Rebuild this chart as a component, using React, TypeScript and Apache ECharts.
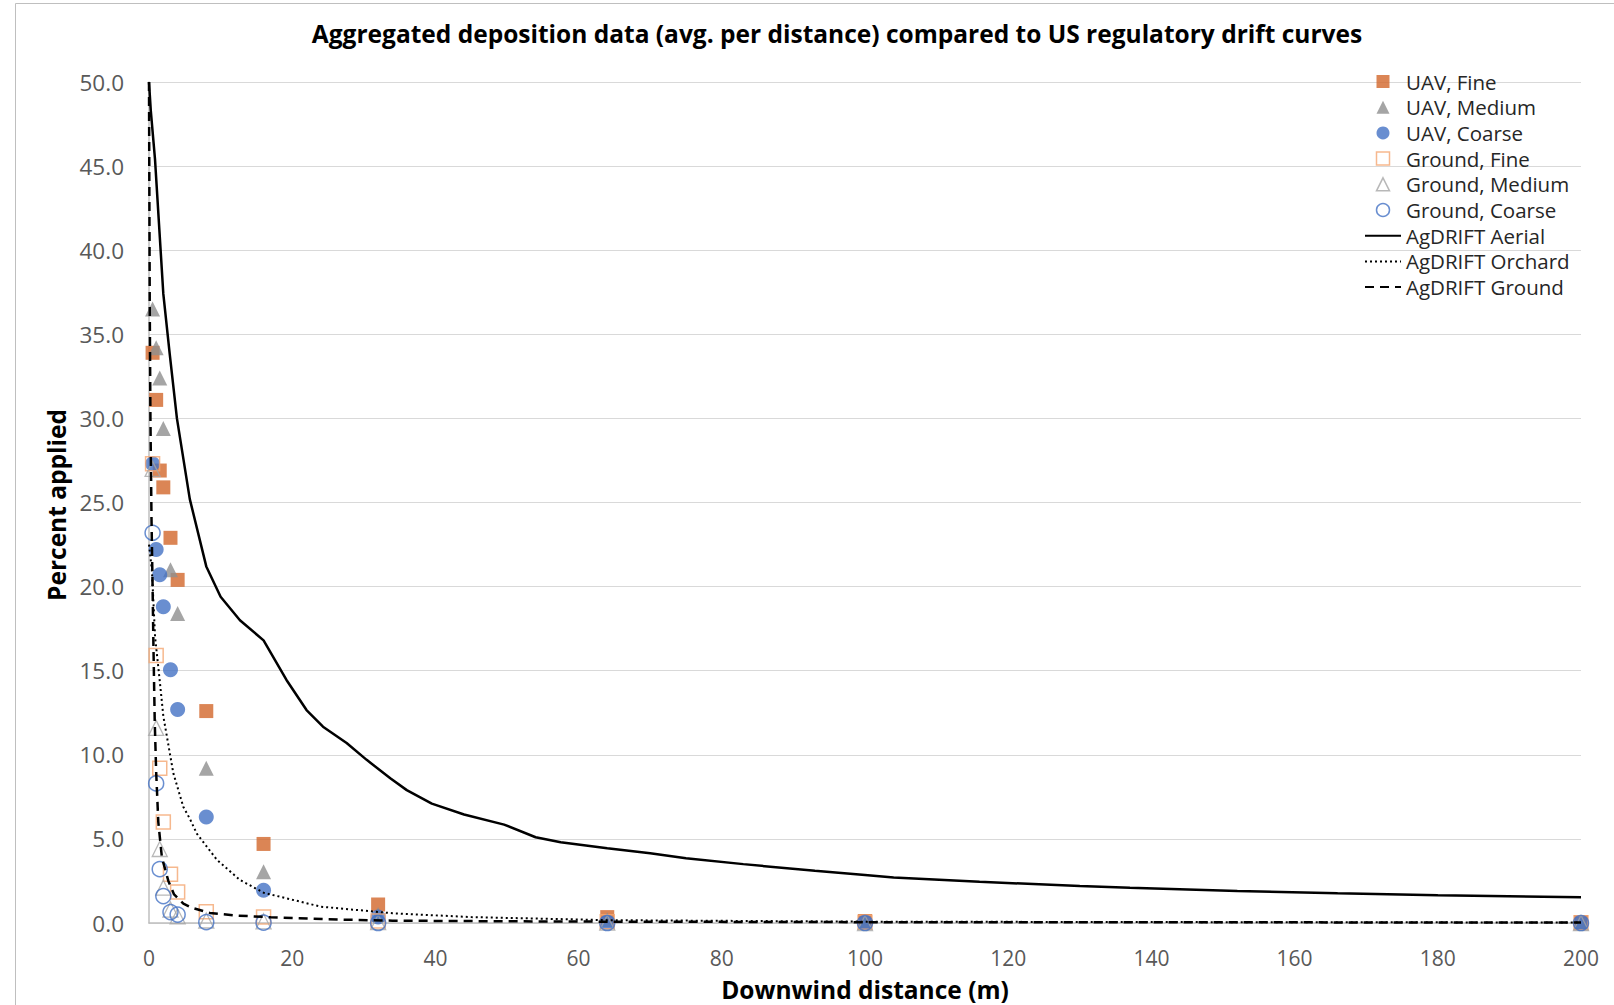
import React, { useEffect, useRef } from "react";
import * as echarts from "echarts";

const titleText = "Aggregated deposition data (avg. per distance) compared to US regulatory drift curves";
const xAxisTitle = "Downwind distance (m)";
const yAxisTitle = "Percent applied";

const seriesNames = [
  "UAV, Fine",
  "UAV, Medium",
  "UAV, Coarse",
  "Ground, Fine",
  "Ground, Medium",
  "Ground, Coarse",
  "AgDRIFT Aerial",
  "AgDRIFT Orchard",
  "AgDRIFT Ground",
];

const distances = [0.5, 1, 1.5, 2, 3, 4, 8, 16, 32, 64, 100, 200];
const uavFine = [33.9, 31.1, 26.9, 25.9, 22.9, 20.4, 12.6, 4.7, 1.1, 0.35, 0.12, 0.05];
const uavMedium = [36.5, 34.2, 32.4, 29.4, 21.0, 18.4, 9.2, 3.05, 0.5, 0.2, 0.05, 0.02];
const uavCoarse = [27.3, 22.2, 20.7, 18.8, 15.05, 12.7, 6.3, 1.95, 0.35, 0.05, 0.0, 0.0];
const groundFine = [27.3, 15.9, 9.2, 6.0, 2.9, 1.85, 0.67, 0.35, 0.12, 0.08, 0.05, 0.02];
const groundMedium = [27.0, 11.6, 4.4, 2.1, 0.8, 0.4, 0.15, 0.1, 0.05, 0.02, 0.0, 0.0];
const groundCoarse = [23.2, 8.3, 3.2, 1.6, 0.65, 0.5, 0.05, 0.02, 0.0, 0.0, 0.0, 0.0];

const aerialX = [0, 0.25, 0.84, 2, 2.9, 3.9, 5.7, 8, 10, 12.7, 16, 19.2, 22, 24.3, 27.6, 30.4, 33.7, 36, 39.5, 44, 49.6, 54, 57.5, 64, 70, 75, 83, 93, 100, 104, 116, 130, 137, 152, 166, 180, 200];
const aerialY = [50, 48.3, 45.4, 37.4, 33.8, 30.0, 25.2, 21.2, 19.4, 18.0, 16.8, 14.45, 12.66, 11.67, 10.7, 9.7, 8.6, 7.9, 7.1, 6.45, 5.85, 5.1, 4.8, 4.45, 4.15, 3.85, 3.5, 3.1, 2.85, 2.7, 2.45, 2.2, 2.1, 1.9, 1.77, 1.65, 1.53];

const orchardX = [0, 0.4, 0.85, 1.5, 2, 3.4, 4.8, 5.7, 6.7, 9.5, 12.7, 16, 24, 34, 45, 64, 100, 150, 200];
const orchardY = [22.5, 21.0, 17.0, 14.4, 12.3, 8.9, 6.9, 6.2, 5.3, 3.75, 2.56, 1.8, 0.97, 0.58, 0.35, 0.17, 0.08, 0.05, 0.03];

const groundX = [0, 0.1, 0.2, 0.35, 0.5, 0.6, 0.8, 1.0, 1.3, 1.8, 2.7, 3.5, 4.8, 6, 8.5, 12, 17, 25, 34, 50, 64, 100, 200];
const groundY = [50, 37, 30, 24, 20, 17, 12, 9, 6, 3.9, 2.5, 1.7, 1.15, 0.9, 0.6, 0.45, 0.34, 0.22, 0.14, 0.1, 0.08, 0.05, 0.03];

const yTicks = { min: 0, max: 50, interval: 5 };
const xTicks = { min: 0, max: 200, interval: 20 };

const zip = (xs: number[], ys: number[]) => xs.map((x, i) => [x, ys[i]]);

const SQUARE_ICON = "path://M0,0L10,0L10,10L0,10Z";
const TRIANGLE_ICON = "path://M5,0L10,10L0,10Z";
const CIRCLE_ICON = "circle";
const legendIcons = [SQUARE_ICON, TRIANGLE_ICON, CIRCLE_ICON, SQUARE_ICON, TRIANGLE_ICON, CIRCLE_ICON];

export default function App() {
  const ref = useRef<HTMLDivElement>(null);
  useEffect(() => {
    if (!ref.current) return;
    const chart = echarts.init(ref.current, undefined, { renderer: "svg" });
    const font = "'Open Sans', 'Liberation Sans', sans-serif";
    const orange = "#D2672A";
    const gray = "#8E8E8E";
    const blue = "#4472C4";
    const lightOrange = "#F4A672";
    const lightGray = "#A6A6A6";

    const scatter = (name: string, ys: number[], symbol: string, size: number, itemStyle: any) => ({
      name,
      type: "scatter",
      data: zip(distances, ys),
      symbol,
      symbolSize: size,
      itemStyle,
      emphasis: { disabled: true },
    });

    const line = (name: string, xs: number[], ys: number[], lineStyle: any) => ({
      name,
      type: "line",
      data: zip(xs, ys),
      symbol: "none",
      itemStyle: { color: "#000" },
      lineStyle,
      emphasis: { disabled: true },
    });

    chart.setOption({
      animation: false,
      backgroundColor: "#ffffff",
      title: {
        text: titleText,
        left: 837,
        top: 33,
        textAlign: "center",
        textVerticalAlign: "middle",
        padding: 0,
        textStyle: { fontFamily: font, fontWeight: "bold", fontSize: 24.5, color: "#000" },
      },
      graphic: [
        {
          type: "rect",
          shape: { x: 15.5, y: 3.5, width: 2000, height: 2000 },
          style: { fill: "none", stroke: "#BFBFBF", lineWidth: 1 },
          silent: true,
        },
      ],
      legend: {
        orient: "vertical",
        left: 1364,
        top: 71,
        itemWidth: 36,
        itemHeight: 13,
        itemGap: 4.7,
        padding: 0,
        symbolKeepAspect: true,
        selectedMode: false,
        textStyle: { fontFamily: font, fontSize: 20.5, color: "#262626", lineHeight: 20 },
        data: seriesNames.map((n, i) => {
          if (i >= 3 && i <= 5) return { name: n, icon: legendIcons[i], itemStyle: { borderWidth: 1.5 } };
          if (i >= 6) return { name: n, itemStyle: { opacity: 0 } };
          return { name: n, icon: legendIcons[i] };
        }),
      },
      grid: { left: 149, right: 33, top: 82, bottom: 82, containLabel: false, outerBoundsMode: "none" },
      xAxis: {
        type: "value",
        min: xTicks.min,
        max: xTicks.max,
        interval: xTicks.interval,
        name: xAxisTitle,
        nameLocation: "middle",
        nameGap: 54,
        nameTextStyle: { fontFamily: font, fontWeight: "bold", fontSize: 24.5, color: "#000" },
        axisLine: { show: true, lineStyle: { color: "#BFBFBF", width: 1.5 } },
        axisTick: { show: false },
        splitLine: { show: false },
        axisLabel: { fontFamily: font, fontSize: 21, color: "#595959", margin: 24 },
      },
      yAxis: {
        type: "value",
        min: yTicks.min,
        max: yTicks.max,
        interval: yTicks.interval,
        name: yAxisTitle,
        nameLocation: "middle",
        nameGap: 80,
        nameTextStyle: { fontFamily: font, fontWeight: "bold", fontSize: 24.5, color: "#000", padding: [0, 5, 0, 0] },
        axisLine: { show: true, lineStyle: { color: "#BFBFBF", width: 1.5 } },
        axisTick: { show: false },
        splitLine: { show: true, lineStyle: { color: "#D9D9D9", width: 1.2 } },
        axisLabel: {
          fontFamily: font,
          fontSize: 22.5,
          color: "#595959",
          margin: 25,
          formatter: (v: number) => v.toFixed(1),
        },
      },
      series: [
        scatter(seriesNames[0], uavFine, "rect", 14, { color: orange }),
        scatter(seriesNames[1], uavMedium, "triangle", 15, { color: gray }),
        scatter(seriesNames[2], uavCoarse, "circle", 15, { color: blue }),
        scatter(seriesNames[3], groundFine, "rect", 14, { color: "rgba(255,255,255,0)", borderColor: lightOrange, borderWidth: 1.5 }),
        scatter(seriesNames[4], groundMedium, "triangle", 15, { color: "rgba(255,255,255,0)", borderColor: lightGray, borderWidth: 1.3 }),
        scatter(seriesNames[5], groundCoarse, "circle", 15, { color: "rgba(255,255,255,0)", borderColor: blue, borderWidth: 1.5 }),
        line(seriesNames[6], aerialX, aerialY, { color: "#000", width: 2.5, type: "solid" }),
        line(seriesNames[7], orchardX, orchardY, { color: "#000", width: 2, type: [2, 3] }),
        line(seriesNames[8], groundX, groundY, { color: "#000", width: 2.5, type: [9, 6] }),
      ],
    });
    return () => chart.dispose();
  }, []);
  return (
    <div
      ref={ref}
      style={{ position: "fixed", left: 0, top: 0, width: 1614, height: 1005, background: "#fff" }}
    />
  );
}
